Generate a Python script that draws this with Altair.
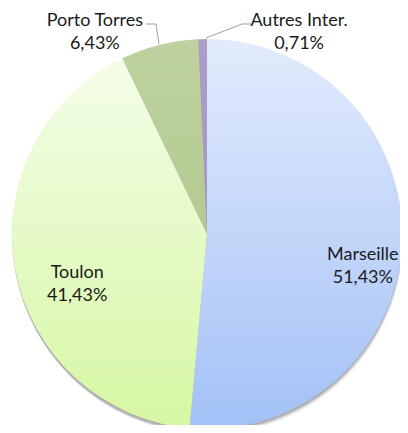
import math
import altair as alt
import pandas as pd

names = ["Marseille", "Toulon", "Porto Torres", "Autres Inter."]
values = [51.43, 41.43, 6.43, 0.71]
order = [0, 1, 2, 3]

df = pd.DataFrame({"name": names, "value": values, "order": order})

CX, CY, R = 199, 226, 195
FONT = "Lato"
FS = 18

theta_scale = alt.Scale(domain=[0, 100], range=[0, 2 * math.pi])

base = alt.Chart(df).transform_window(
    cum="sum(value)", sort=[alt.SortField("order")], frame=[None, 0]
).transform_calculate(
    start="datum.cum - datum.value",
    mid="datum.cum - datum.value / 2",
    label="[datum.name, replace(format(datum.value, '.2f'), '.', ',') + '%']",
)

center = dict(x=alt.value(CX), y=alt.value(CY))

# shadow
shadow_base = alt.Chart(df).transform_aggregate(total="sum(value)").transform_calculate(zero="0")
shadows = []
for yo, xo, op, rr in [(5, 1, 0.05, 195), (4, 1, 0.08, 195), (3, 0, 0.12, 195), (2, 0, 0.10, 195)]:
    shadows.append(
        shadow_base.mark_arc(radius=rr, yOffset=yo, xOffset=xo, color="#000000", opacity=op).encode(
            theta=alt.Theta("zero:Q", scale=theta_scale),
            theta2="total:Q",
            **center,
        )
    )

def grad(c1, c2):
    return alt.Gradient(
        gradient="linear",
        stops=[alt.GradientStop(color=c1, offset=0), alt.GradientStop(color=c2, offset=1)],
        x1=0, x2=0, y1=0, y2=1,
    )

fills = {
    "Marseille": grad("#e2ebfc", "#a3c1f7"),
    "Toulon": grad("#f4fde8", "#d6f7a3"),
    "Porto Torres": grad("#bdd29e", "#b4ca92"),
    "Autres Inter.": grad("#ac9ec8", "#a596c2"),
}

slices = []
for n in names:
    slices.append(
        base.transform_filter(alt.datum.name == n).mark_arc(radius=R, color=fills[n], stroke=None).encode(
            theta=alt.Theta("start:Q", scale=theta_scale),
            theta2="cum:Q",
            **center,
        )
    )

# label placement: (radius, dx, dy)
label_pos = {
    "Marseille": (160, -4, 13.5),
    "Toulon": (140, 8, 14),
    "Porto Torres": (230, -56, 10.5),
    "Autres Inter.": (220, 97, 7),
}
labels = []
for n in names:
    rr, dx, dy = label_pos[n]
    labels.append(
        base.transform_filter(alt.datum.name == n).mark_text(
            font=FONT, fontSize=FS, color="#1a1a1a", align="center", baseline="middle",
            lineHeight=23, dx=dx, dy=dy,
        ).encode(
            theta=alt.Theta("mid:Q", scale=theta_scale),
            radius=alt.value(rr),
            text="label:N",
            **center,
        )
    )

# leader lines
LC = "#a0a0a0"
def seg(n, x1, y1, x2, y2):
    return base.transform_filter(alt.datum.name == n).mark_rule(color=LC, strokeWidth=1).encode(
        x=alt.value(x1), y=alt.value(y1), x2=alt.value(x2), y2=alt.value(y2)
    )

lines = [
    seg("Porto Torres", 138, 16, 148, 16),
    seg("Porto Torres", 148, 16, 151, 36),
    seg("Autres Inter.", 198, 30, 234, 16),
    seg("Autres Inter.", 234, 16, 243, 16),
]

chart = alt.layer(*shadows, *slices, *lines, *labels).properties(
    width=392, height=417, padding=0, autosize=alt.AutoSizeParams(type="none")
).configure_view(stroke=None)

chart.save("out.html", embed_options={"renderer": "svg", "actions": False})
